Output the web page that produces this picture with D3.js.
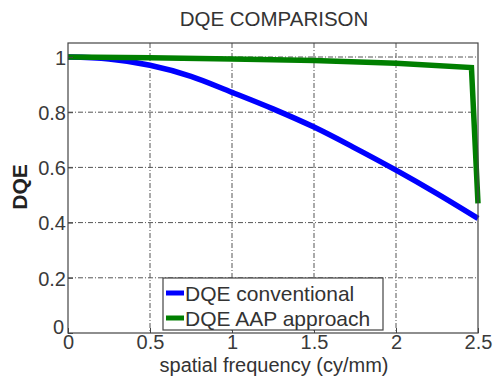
<!DOCTYPE html>
<html>
<head>
<meta charset="utf-8">
<script src="https://cdn.jsdelivr.net/npm/d3@7"></script>
<style>
  body { margin: 0; background: #fff; }
  svg { font-family: "Liberation Sans", Arial, sans-serif; }
  .grid line { stroke: #555; stroke-width: 1; stroke-dasharray: 5,2,1,2; }
  .tick text { fill: #3a3a3a; font-size: 20px; }
</style>
</head>
<body>
<svg width="494" height="379"></svg>
<script>
var freqConv = [0, 0.25, 0.5, 0.75, 1.0, 1.25, 1.5, 1.75, 2.0, 2.25, 2.5];
var dqeConv = [1.0, 0.993, 0.97, 0.93, 0.872, 0.812, 0.746, 0.67, 0.59, 0.505, 0.415];

var freqAap = [0, 0.5, 1.0, 1.5, 2.0, 2.46, 2.5];
var dqeAap = [1.0, 0.997, 0.993, 0.987, 0.977, 0.962, 0.47];

var xTicks = [0, 0.5, 1, 1.5, 2, 2.5];
var yTicks = [0, 0.2, 0.4, 0.6, 0.8, 1];

var legendLabels = ["DQE conventional", "DQE AAP approach"];
var colors = ["#0000ff", "#007f00"];

var svg = d3.select("svg"),
    plotL = 68, plotR = 478, plotT = 43, plotB = 333;

var x = d3.scaleLinear().domain([0, 2.5]).range([plotL, plotR]);
var y = d3.scaleLinear().domain([0, 1]).range([plotB, 57]);

// grid
var grid = svg.append("g").attr("class", "grid");
grid.selectAll(".gx").data(xTicks.slice(1, -1)).enter().append("line")
    .attr("class", "gx")
    .attr("x1", d => x(d)).attr("x2", d => x(d))
    .attr("y1", plotT).attr("y2", plotB);
grid.selectAll(".gy").data(yTicks.slice(1)).enter().append("line")
    .attr("class", "gy")
    .attr("x1", plotL).attr("x2", plotR)
    .attr("y1", d => y(d)).attr("y2", d => y(d));

// series - smooth curve for the conventional one, straight segments for AAP
var smooth = d3.line().x(d => x(d[0])).y(d => y(d[1])).curve(d3.curveMonotoneX);
var straight = d3.line().x(d => x(d[0])).y(d => y(d[1]));
var series = [
    { pts: d3.zip(freqConv, dqeConv), gen: smooth },
    { pts: d3.zip(freqAap, dqeAap), gen: straight }
];
svg.selectAll(".series").data(series).enter().append("path")
    .attr("class", "series")
    .attr("d", d => d.gen(d.pts))
    .attr("fill", "none")
    .attr("stroke", (d, i) => colors[i])
    .attr("stroke-width", 5.5)
    .attr("stroke-linejoin", "miter");

// frame
svg.append("rect")
    .attr("x", plotL).attr("y", plotT)
    .attr("width", plotR - plotL).attr("height", plotB - plotT)
    .attr("fill", "none").attr("stroke", "#444").attr("stroke-width", 1.2);

// axes
var xAxis = svg.append("g")
    .attr("transform", "translate(0," + plotB + ")")
    .call(d3.axisBottom(x).tickValues(xTicks).tickFormat(d3.format("")).tickSize(-5).tickPadding(1));
var yAxis = svg.append("g")
    .attr("transform", "translate(" + plotL + ",0)")
    .call(d3.axisLeft(y).tickValues(yTicks).tickFormat(d3.format("")).tickSize(-5).tickPadding(2));
svg.selectAll(".domain").remove();
svg.selectAll(".tick line").attr("stroke", "#444");
xAxis.selectAll("text").attr("dy", "0.76em");
yAxis.selectAll("text").attr("dy", "0.36em");
yAxis.selectAll(".tick").filter(d => d === 0).select("text").attr("dy", "0.02em").attr("x", -4);

// labels
svg.append("text")
    .attr("x", 274).attr("y", 26)
    .attr("text-anchor", "middle")
    .attr("fill", "#333").attr("font-size", 20.5)
    .text("DQE COMPARISON");

svg.append("text")
    .attr("x", 274).attr("y", 372)
    .attr("text-anchor", "middle")
    .attr("fill", "#333").attr("font-size", 20)
    .text("spatial frequency (cy/mm)");

svg.append("text")
    .attr("transform", "translate(27,187) rotate(-90)")
    .attr("text-anchor", "middle")
    .attr("fill", "#222").attr("font-size", 21).attr("font-weight", "bold")
    .text("DQE");

// legend
var lg = svg.append("g").attr("transform", "translate(163,278)");
lg.append("rect")
    .attr("width", 220).attr("height", 52)
    .attr("fill", "#fff").attr("stroke", "#444").attr("stroke-width", 1.2);
var item = lg.selectAll(".item").data(legendLabels).enter().append("g")
    .attr("class", "item")
    .attr("transform", (d, i) => "translate(0," + (15 + i * 25) + ")");
item.append("line")
    .attr("x1", 3).attr("x2", 21)
    .attr("stroke", (d, i) => colors[i]).attr("stroke-width", 5);
item.append("text")
    .attr("x", 22).attr("dy", "0.36em")
    .attr("fill", "#333").attr("font-size", 21)
    .text(d => d);
</script>
</body>
</html>
